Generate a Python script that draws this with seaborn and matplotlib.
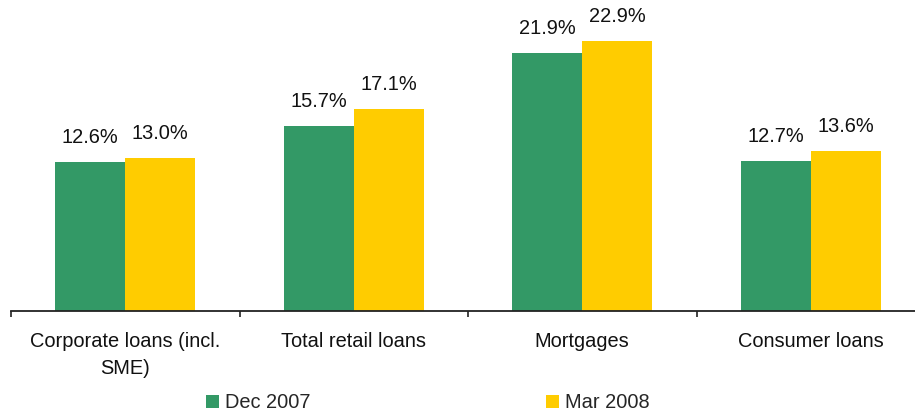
import matplotlib
matplotlib.use("Agg")
import matplotlib.pyplot as plt
import seaborn as sns
import pandas as pd
import numpy as np
from matplotlib.patches import Patch

categories = ["Corporate loans (incl.\nSME)", "Total retail loans", "Mortgages", "Consumer loans"]
series = ["Dec 2007", "Mar 2008"]
dec_2007 = [12.6, 15.7, 21.9, 12.7]
mar_2008 = [13.0, 17.1, 22.9, 13.6]
colors = ["#339966", "#FFCC00"]

df = pd.DataFrame({
    "category": categories * 2,
    "series": [series[0]] * len(categories) + [series[1]] * len(categories),
    "value": dec_2007 + mar_2008,
})

sns.set_theme(style="white")
plt.rcParams["font.family"] = ["Liberation Sans", "DejaVu Sans"]

W, H = 915, 413
FS = 14.4
fig = plt.figure(figsize=(W / 100, H / 100), dpi=100)
ax = fig.add_axes([11 / W, (H - 311) / H, 914 / W, 311 / H])

sns.barplot(data=df, x="category", y="value", hue="series", order=categories,
            hue_order=series, palette=colors, width=0.613, saturation=1,
            ax=ax, legend=False, linewidth=0)

ax.set_ylim(0, 311 / 11.79)
ax.set_xlim(-0.5, len(categories) - 0.5)

for container in ax.containers:
    for bar in container:
        h = bar.get_height()
        ax.annotate(f"{h:.1f}%", (bar.get_x() + bar.get_width() / 2, h),
                    xytext=(0, 15), textcoords="offset pixels",
                    ha="center", va="bottom", fontsize=FS, color="#111111")

for side in ["top", "right", "left"]:
    ax.spines[side].set_visible(False)
ax.spines["bottom"].set_color("#222222")
ax.spines["bottom"].set_linewidth(1.3)
ax.set_yticks([])
ax.set_xlabel("")
ax.set_ylabel("")

ax.set_xticks(range(len(categories)))
ax.set_xticklabels(categories, fontsize=FS, color="#111111", linespacing=1.55)
ax.tick_params(axis="x", which="major", bottom=True, length=0, pad=15)
ax.set_xticks(np.arange(-0.5, len(categories), 1.0), minor=True)
ax.tick_params(axis="x", which="minor", bottom=True, length=4.5, width=1.2,
               color="#222222", direction="out")

handles = [Patch(facecolor=c, edgecolor="none") for c in colors]
fig.legend(handles, series, loc="center", bbox_to_anchor=(428 / W, (H - 403) / H),
           ncol=2, frameon=False, fontsize=FS, handlelength=0.65, handleheight=0.65,
           handletextpad=0.3, columnspacing=11.8, borderpad=0, borderaxespad=0)

fig.savefig("out.png", dpi=100)
